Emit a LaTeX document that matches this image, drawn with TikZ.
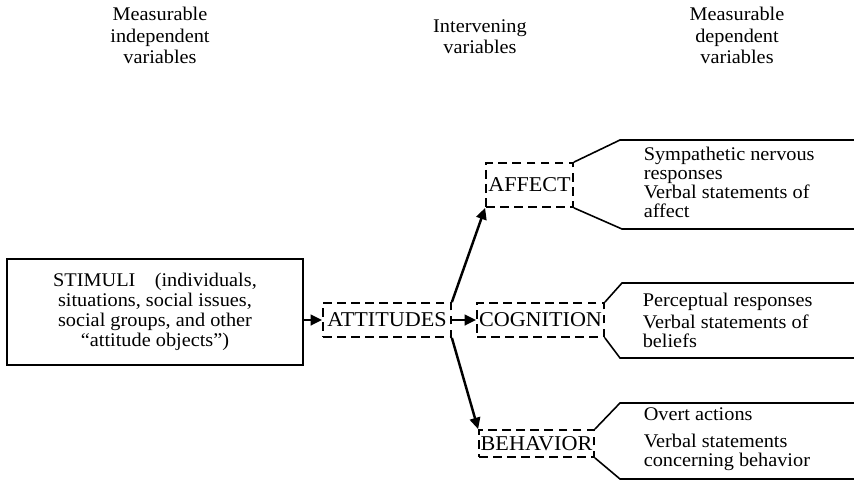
\documentclass[tikz,border=0pt]{standalone}
\usepackage{fontspec}
\setmainfont{Liberation Serif}[FakeStretch=1.05]
\usetikzlibrary{shapes,arrows.meta}

\begin{document}
\begin{tikzpicture}[auto, line width=0.9pt, >={Triangle[length=6.5pt,width=6pt]},
  dbox/.style={draw, dashed, dash pattern=on 5pt off 3pt, line width=1pt, inner sep=0pt, font=\fontsize{12}{13}\selectfont},
  rtext/.style={anchor=north west, inner sep=0pt, align=left, font=\fontsize{11}{10.9}\selectfont},
  head/.style={anchor=north, inner sep=0pt, align=center, font=\fontsize{11}{12.2}\selectfont},
  link/.style={->, line width=1.4pt}]

\useasboundingbox (0,0) rectangle (17.08,9.6);

% column headings
\node (H1) [head] at (3.2, 9.47) {Measurable\\independent\\variables};
\node (H2) [head] at (9.6, 9.23) {Intervening\\variables};
\node (H3) [head] at (14.74, 9.47) {Measurable\\dependent\\variables};

% stimuli and intervening variables
\node (stim) [draw, line width=1.1pt, minimum width=5.92cm, minimum height=2.12cm, align=center,
  font=\fontsize{11}{11.5}\selectfont] at (3.1, 3.36)
  {STIMULI\quad(individuals,\\situations, social issues,\\social groups, and other\\``attitude objects'')};
\node (att) [dbox, minimum width=2.56cm, minimum height=0.68cm] at (7.74, 3.2) {ATTITUDES};
\node (cog) [dbox, minimum width=2.54cm, minimum height=0.68cm] at (10.81, 3.2) {COGNITION};
\node (aff) [dbox, minimum width=1.74cm, minimum height=0.88cm] at (10.59, 5.9) {AFFECT};
\node (beh) [dbox, minimum width=2.3cm, minimum height=0.54cm] at (10.73, 0.73) {BEHAVIOR};

% arrows
\draw[link] (stim.east |- att) -- (att);
\draw[link] (att) -- (cog);
\draw[link] (att.north east) -- (aff.south west);
\draw[link] (att.south east) -- (beh.north west);

% brackets for the measured responses
\coordinate (edge) at (17.08, 0);
\coordinate (affT) at (12.4, 6.8);
\coordinate (affB) at (12.44, 5.02);
\coordinate (cogT) at (12.44, 3.94);
\coordinate (cogB) at (12.4, 2.44);
\coordinate (behT) at (12.4, 1.54);
\coordinate (behB) at (12.4, 0.02);

\draw (aff.north east) -- (affT) -- (affT -| edge);
\draw (aff.south east) -- (affB) -- (affB -| edge);
\draw (cog.north east) -- (cogT) -- (cogT -| edge);
\draw (cog.south east) -- (cogB) -- (cogB -| edge);
\draw (beh.north east) -- (behT) -- (behT -| edge);
\draw (beh.south east) -- (behB) -- (behB -| edge);

\node (affR) [rtext] at (12.86, 6.68) {Sympathetic nervous\\responses\\Verbal statements of\\affect};
\node (cogR) [rtext] at (12.84, 3.76) {Perceptual responses\\[1.7pt]Verbal statements of\\beliefs};
\node (behR) [rtext] at (12.86, 1.46) {Overt actions\\[4.6pt]Verbal statements\\concerning behavior};

\end{tikzpicture}
\end{document}
